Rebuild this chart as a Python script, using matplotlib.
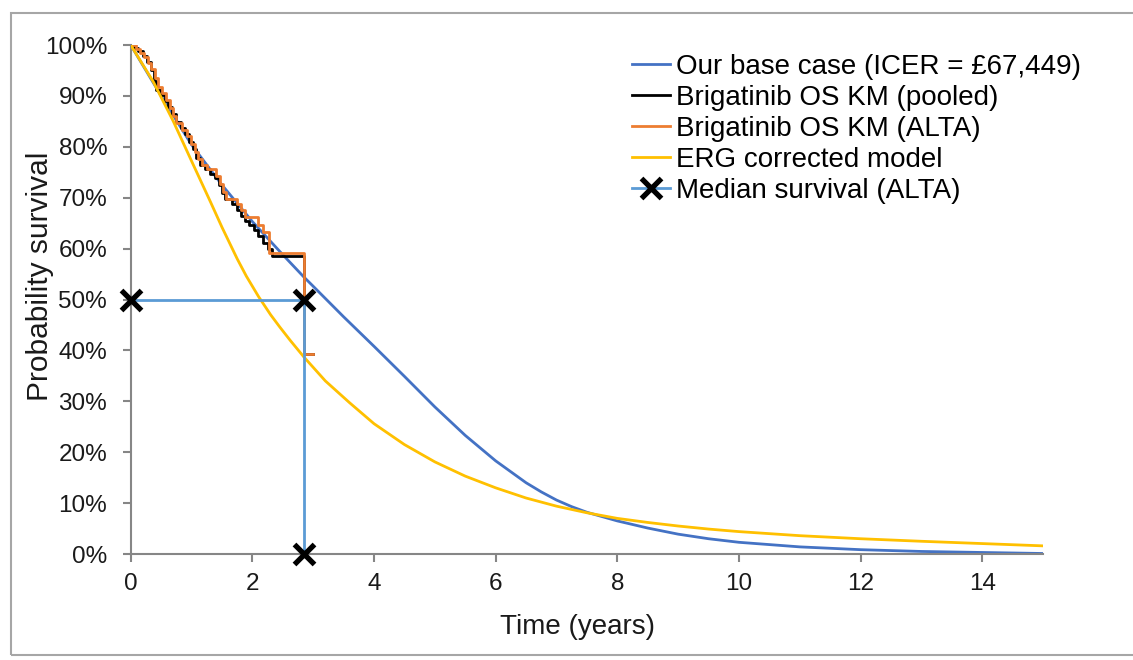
import matplotlib
matplotlib.use("Agg")
import matplotlib.pyplot as plt
import matplotlib.ticker as mticker
from matplotlib.patches import Rectangle

plt.rcParams['font.family'] = ['Liberation Sans', 'DejaVu Sans']

# modelled curves (years, survival %)
base_t = [0, 0.25, 0.5, 0.75, 1.0, 1.5, 2.0, 2.5, 2.84, 3.0, 3.5, 4.0, 4.5, 5.0, 5.5,
          6.0, 6.5, 6.75, 7.0, 7.25, 7.5, 8.0, 8.5, 9.0, 9.5, 10, 11, 12, 13, 14, 15]
base_s = [100, 95, 90, 85.2, 80.4, 72.5, 65.3, 58.8, 54.5, 52.6, 46.6, 40.8, 34.9, 28.9, 23.3,
          18.3, 14.0, 12.2, 10.6, 9.3, 8.2, 6.5, 5.1, 3.9, 3.0, 2.3, 1.4, 0.85, 0.5, 0.3, 0.1]

erg_t = [0, 0.37, 0.7, 1.0, 1.31, 1.5, 1.75, 1.9, 2.1, 2.3, 2.45, 2.62, 2.84, 3.2, 3.6,
         4.0, 4.5, 5.0, 5.5, 6.0, 6.5, 7.0, 7.5, 8.0, 8.5, 9.0, 9.5, 10, 11, 12, 13, 14, 15]
erg_s = [100, 92.8, 85.0, 77.2, 69.2, 64.2, 58, 54.6, 50.6, 47.0, 44.6, 42.0, 38.8, 34.0, 29.7,
         25.6, 21.5, 18.1, 15.3, 13.0, 11.0, 9.4, 8.1, 7.0, 6.2, 5.5, 4.9, 4.4, 3.6, 3.0, 2.5, 2.05, 1.6]

# Kaplan-Meier step data
pooled_t = [0, 0.05, 0.12, 0.2, 0.27, 0.33, 0.38, 0.42, 0.5, 0.56, 0.62, 0.68, 0.74,
            0.82, 0.9, 0.96, 1.02, 1.08, 1.14, 1.22, 1.3, 1.38, 1.45, 1.5, 1.55,
            1.66, 1.75, 1.82, 1.88, 1.95, 2.02, 2.1, 2.18, 2.26, 2.32, 2.85, 3.0]
pooled_s = [100, 99.5, 98.8, 97.8, 96.6, 95.0, 93.0, 91.2, 90.2, 89.0, 87.8, 86.4, 84.8,
            83.6, 82.5, 81.0, 79.5, 77.8, 76.5, 75.6, 74.6, 73.8, 72.4, 71.0, 69.8,
            68.8, 67.6, 66.4, 65.4, 64.6, 63.6, 62.5, 61.2, 60.0, 58.5, 39.2, 39.2]

alta_t = [0, 0.08, 0.15, 0.22, 0.28, 0.34, 0.40, 0.45, 0.52, 0.58, 0.64, 0.70, 0.75,
          0.85, 0.92, 0.99, 1.05, 1.10, 1.17, 1.25, 1.40, 1.47, 1.52, 1.57, 1.74,
          1.82, 1.88, 2.10, 2.18, 2.27, 2.85, 3.0]
alta_s = [100, 99.3, 98.5, 97.6, 96.4, 95.2, 93.6, 91.8, 90.6, 89.2, 87.6, 86.0, 84.6,
          83.4, 82.2, 80.6, 79.0, 77.6, 76.4, 75.6, 74.2, 72.6, 71.2, 69.8, 68.8,
          67.6, 66.2, 64.6, 63.2, 59.2, 39.2, 39.2]

median_t = [0, 2.85, 2.85]
median_s = [50, 50, 0]

fig = plt.figure(figsize=(11.33, 6.6), dpi=100)
fig.patches.append(Rectangle((11 / 1133, 1 - 655 / 660), 1.2, (655 - 13) / 660,
                             transform=fig.transFigure, fill=False,
                             edgecolor='#a6a6a6', linewidth=1.5))
ax = fig.add_axes([0.1154, 0.1606, 0.8052, 0.7712])

frac = lambda v: [x / 100 for x in v]
ax.plot(base_t, frac(base_s), color='#4472C4', lw=2, label='Our base case (ICER = £67,449)', zorder=2)
ax.plot(pooled_t, frac(pooled_s), color='black', lw=2, drawstyle='steps-post',
        label='Brigatinib OS KM (pooled)', zorder=3)
ax.plot(alta_t, frac(alta_s), color='#ED7D31', lw=2, drawstyle='steps-post',
        label='Brigatinib OS KM (ALTA)', zorder=4)
ax.plot(erg_t, frac(erg_s), color='#FFC000', lw=2, label='ERG corrected model', zorder=5)
ax.plot(median_t, frac(median_s), color='#5B9BD5', lw=2, marker='x', ms=14, mew=3.8,
        mec='black', label='Median survival (ALTA)', zorder=6, clip_on=False)

ax.set_xlim(0, 15)
ax.set_ylim(0, 1)
ax.set_xticks(range(0, 15, 2))
ax.set_yticks([i / 10 for i in range(11)])
ax.yaxis.set_major_formatter(mticker.PercentFormatter(1.0, decimals=0))

for side in ['top', 'right']:
    ax.spines[side].set_visible(False)
for side in ['left', 'bottom']:
    ax.spines[side].set_color('#868686')
    ax.spines[side].set_linewidth(1.5)
ax.tick_params(axis='both', direction='out', length=6, width=1.5, color='#868686',
               labelsize=17.5, labelcolor='#1a1a1a')
ax.tick_params(axis='y', pad=11)
ax.tick_params(axis='x', pad=8)

ax.set_xlabel('Time (years)', fontsize=20, color='#1a1a1a')
ax.set_ylabel('Probability survival', fontsize=21.5, color='#1a1a1a')
ax.xaxis.set_label_coords(0.490, -0.1434)
ax.yaxis.set_label_coords(-0.0994, 0.546)
ax.xaxis.label.set_va('center')
ax.yaxis.label.set_va('center')

ax.legend(loc='upper left', bbox_to_anchor=(0.549, 0.982), frameon=False, fontsize=20,
          handlelength=1.4, handletextpad=0.2, labelspacing=0.18, borderpad=0,
          borderaxespad=0)

fig.savefig('out.png', dpi=100)
